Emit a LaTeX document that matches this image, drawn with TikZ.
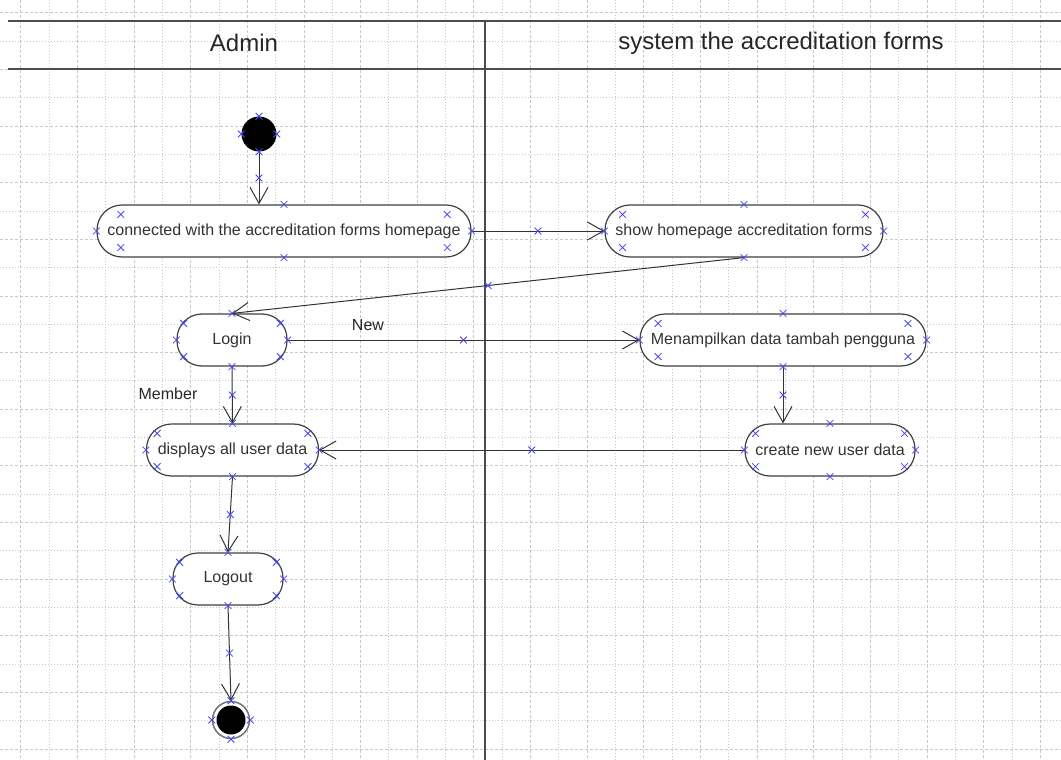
\documentclass[tikz,border=0pt]{standalone}
\usepackage{fontspec}
\setmainfont{Liberation Sans}
\usetikzlibrary{arrows.meta,calc,shapes.misc}

\definecolor{handleblue}{RGB}{70,70,245}
\definecolor{gridgray}{RGB}{200,200,200}

% selection handles of the editor
\newcommand{\roundhandles}[1]{%
  \foreach \anc in {north,south,east,west}{\node[hx] at (#1.\anc) {};}}
\newcommand{\acthandles}[1]{%
  \roundhandles{#1}%
  \node[hx] at ($(#1.north west)!.065!(#1.north east)+(0,10)$) {};
  \node[hx] at ($(#1.north east)!.065!(#1.north west)+(0,10)$) {};
  \node[hx] at ($(#1.south west)!.065!(#1.south east)+(0,-10)$) {};
  \node[hx] at ($(#1.south east)!.065!(#1.south west)+(0,-10)$) {};}

\begin{document}
\begin{tikzpicture}[x=1pt,y=-1pt,
    act/.style={draw=black!75,line width=1.2pt,fill=white,rounded corners=25pt,
      minimum height=52pt,inner xsep=2pt,font=\fontsize{16}{19}\selectfont,text=black!80},
    startnode/.style={circle,fill=black,minimum size=35pt,inner sep=0pt},
    endnode/.style={circle,draw=black!55,line width=1.5pt,fill=white,minimum size=37pt,inner sep=0pt,
      path picture={\fill[black] (path picture bounding box.center) circle (14.5pt);}},
    hx/.style={cross out,draw=handleblue,line width=.8pt,minimum size=6pt,inner sep=0pt},
    flow/.style={draw=black!80,line width=1pt,-{Straight Barb[length=16pt,width=18pt]}},
    lane/.style={draw=black!70,line width=1.4pt},
    lbl/.style={font=\fontsize{16}{19}\selectfont,text=black!85},
    head/.style={font=\fontsize{24}{28}\selectfont,text=black!85}]
  \useasboundingbox (0,0) rectangle (1061,760);

  % grid
  \foreach \k in {0,...,36}{
    \ifodd\k
      \draw[gridgray,line width=1pt,dash pattern=on 1pt off 2pt]({20.7+28.33*\k},0)--({20.7+28.33*\k},760);
    \else
      \draw[gridgray,line width=1pt,dash pattern=on 3pt off 2pt]({20.7+28.33*\k},0)--({20.7+28.33*\k},760);
    \fi}
  \foreach \k in {0,...,26}{
    \ifodd\k
      \draw[gridgray,line width=1pt,dash pattern=on 1pt off 2pt](0,{12.7+28.33*\k})--(1061,{12.7+28.33*\k});
    \else
      \draw[gridgray,line width=1pt,dash pattern=on 3pt off 2pt](0,{12.7+28.33*\k})--(1061,{12.7+28.33*\k});
    \fi}

  % swimlanes
  \draw[lane](8,21)--(1061,21);
  \draw[lane](8,69)--(1061,69);
  \draw[lane](485,21)--(485,760);
  \node[head] (admin) at (244,43) {Admin};
  \node[head] (system) at (781,43) {system the accreditation forms};

  % activities
  \node[startnode] (start) at (259,134) {};
  \node[act,minimum width=374pt] (connect) at (284,231) {connected with the accreditation forms homepage};
  \node[act,minimum width=278pt] (showhome) at (744,231) {show homepage accreditation forms};
  \node[act,minimum width=110pt] (login) at (232,340) {Login};
  \node[act,minimum width=286pt] (addform) at (783,340) {Menampilkan data tambah pengguna};
  \node[act,minimum width=172pt] (alldata) at (232.5,450) {displays all user data};
  \node[act,minimum width=170pt] (newdata) at (830,450) {create new user data};
  \node[act,minimum width=110pt] (logout) at (228,579) {Logout};
  \node[endnode] (end) at (231,720) {};

  % flows
  \draw[flow](start.south)--node[hx,midway]{}(start.south |- connect.north);
  \draw[flow](connect.east)--node[hx,midway]{}(showhome.west);
  \draw[flow](showhome.south)--node[hx,midway]{}(login.north);
  \draw[flow](login.east)--node[hx,midway]{}(addform.west);
  \node[lbl] (new) at (368,325) {New};
  \draw[flow](login.south)--node[hx,midway]{}(alldata.north);
  \node[lbl] (member) at (168,394) {Member};
  \draw[flow](addform.south)--node[hx,midway]{}(addform.south |- newdata.north);
  \draw[flow](newdata.west)--node[hx,midway]{}(alldata.east);
  \draw[flow](alldata.south)--node[hx,midway]{}(logout.north);
  \draw[flow](logout.south)--node[hx,midway]{}(end.north);

  % handles
  \roundhandles{start}
  \roundhandles{end}
  \foreach \n in {connect,showhome,login,addform,alldata,newdata,logout}{\acthandles{\n}}
\end{tikzpicture}
\end{document}
